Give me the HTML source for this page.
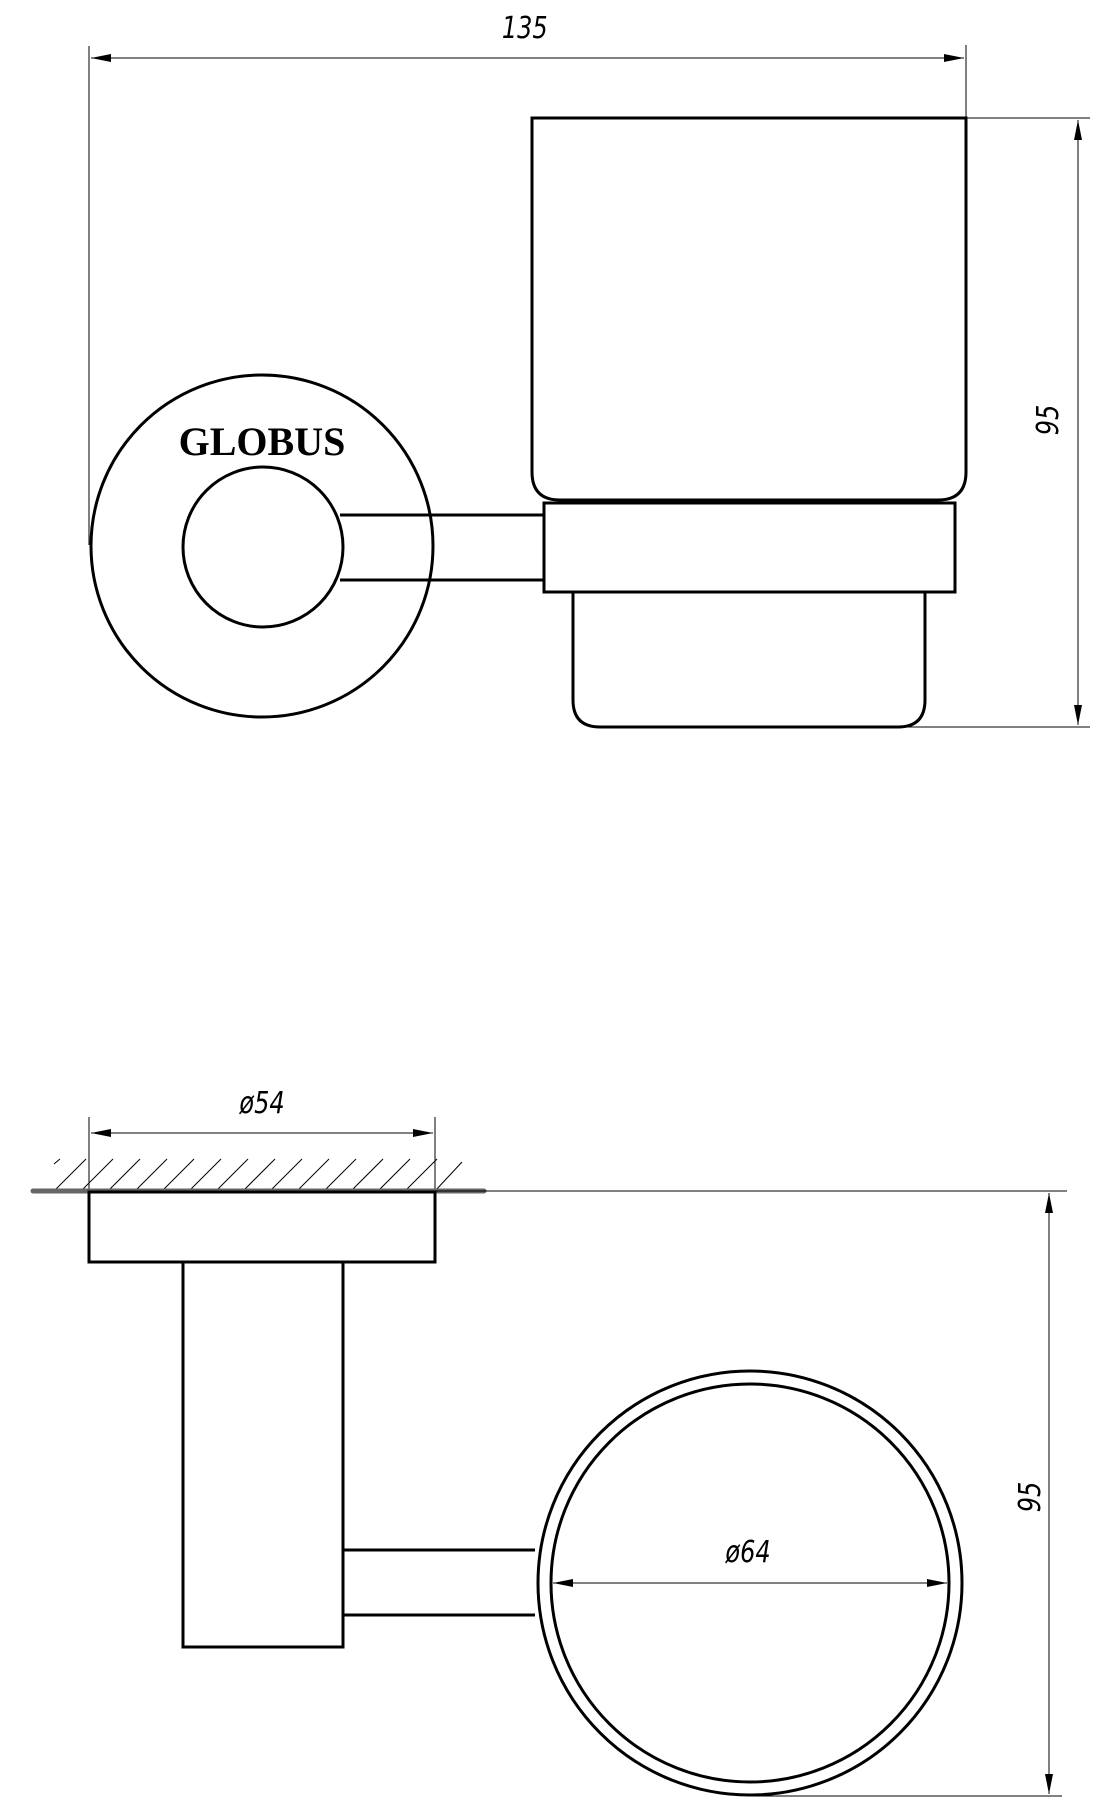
<!DOCTYPE html>
<html><head><meta charset="utf-8"><style>
html,body{margin:0;padding:0;background:#fff;}
svg{display:block;}
text{font-family:"DejaVu Sans","Liberation Sans",sans-serif;}
</style></head><body>
<svg width="1107" height="1800" viewBox="0 0 1107 1800" xmlns="http://www.w3.org/2000/svg">
<defs>
<marker id="a" viewBox="0 0 20 8" refX="20" refY="4" markerWidth="20" markerHeight="8" markerUnits="userSpaceOnUse" orient="auto-start-reverse"><path d="M0,0 L20,4 L0,8 Z" fill="#000"/></marker>
</defs>
<g fill="none" stroke="#000">
<line x1="89" y1="46" x2="89" y2="545" stroke-width="1"/>
<line x1="966" y1="45" x2="966" y2="118" stroke-width="1"/>
<line x1="91" y1="58" x2="964" y2="58" stroke-width="1" marker-start="url(#a)" marker-end="url(#a)"/>
<line x1="966" y1="118" x2="1090" y2="118" stroke-width="1"/>
<line x1="900" y1="727" x2="1090" y2="727" stroke-width="1"/>
<line x1="1078" y1="120" x2="1078" y2="725" stroke-width="1" marker-start="url(#a)" marker-end="url(#a)"/>
<path d="M532,118 H966 V472 Q966,500 938,500 H560 Q532,500 532,472 Z" stroke-width="3"/>
<rect x="544" y="503" width="411" height="89" stroke-width="3"/>
<path d="M573,592 V700 Q573,727 600,727 H898 Q925,727 925,700 V592" stroke-width="3"/>
<circle cx="262" cy="546" r="171" stroke-width="3" fill="#fff"/>
<line x1="340" y1="515" x2="544" y2="515" stroke-width="3"/>
<line x1="340" y1="580" x2="544" y2="580" stroke-width="3"/>
<circle cx="263" cy="547" r="80" stroke-width="3" fill="#fff"/>
<line x1="89" y1="1117" x2="89" y2="1192" stroke-width="1"/>
<line x1="435" y1="1117" x2="435" y2="1192" stroke-width="1"/>
<line x1="91" y1="1133" x2="433" y2="1133" stroke-width="1" marker-start="url(#a)" marker-end="url(#a)"/>
<g stroke-width="1">
<line x1="54" y1="1164" x2="60" y2="1159"/>
<line x1="54" y1="1191" x2="86" y2="1159"/><line x1="81" y1="1191" x2="113" y2="1159"/><line x1="108" y1="1191" x2="140" y2="1159"/><line x1="135" y1="1191" x2="167" y2="1159"/><line x1="162" y1="1191" x2="194" y2="1159"/><line x1="189" y1="1191" x2="221" y2="1159"/><line x1="216" y1="1191" x2="248" y2="1159"/><line x1="243" y1="1191" x2="275" y2="1159"/><line x1="270" y1="1191" x2="302" y2="1159"/><line x1="297" y1="1191" x2="329" y2="1159"/><line x1="324" y1="1191" x2="356" y2="1159"/><line x1="351" y1="1191" x2="383" y2="1159"/><line x1="378" y1="1191" x2="410" y2="1159"/><line x1="405" y1="1191" x2="437" y2="1159"/><line x1="435" y1="1191" x2="462" y2="1162"/>
</g>
<line x1="33" y1="1191" x2="484" y2="1191" stroke="#666" stroke-width="5" stroke-linecap="round"/>
<line x1="435" y1="1191" x2="1067" y2="1191" stroke-width="1"/>
<rect x="89" y="1192" width="346" height="70" stroke-width="3"/>
<rect x="183" y="1262" width="160" height="385" stroke-width="3"/>
<line x1="343" y1="1550" x2="535" y2="1550" stroke-width="3"/>
<line x1="343" y1="1615" x2="535" y2="1615" stroke-width="3"/>
<circle cx="750" cy="1583" r="212" stroke-width="3"/>
<circle cx="750" cy="1583" r="199" stroke-width="3"/>
<line x1="553" y1="1583" x2="947" y2="1583" stroke-width="1" marker-start="url(#a)" marker-end="url(#a)"/>
<line x1="750" y1="1796" x2="1062" y2="1796" stroke-width="1"/>
<line x1="1049" y1="1193" x2="1049" y2="1794" stroke-width="1" marker-start="url(#a)" marker-end="url(#a)"/>
</g>
<g fill="#000" font-size="30" font-style="italic">
<text x="525" y="38" text-anchor="middle" transform="scale(0.8,1) translate(131,0)">135</text>
<text transform="translate(1058,420) rotate(-90) scale(0.8,1)" text-anchor="middle">95</text>
<text transform="translate(1040,1497) rotate(-90) scale(0.8,1)" text-anchor="middle">95</text>
<text transform="translate(262,1113) scale(0.8,1)" text-anchor="middle">ø54</text>
<text transform="translate(748,1562) scale(0.8,1)" text-anchor="middle">ø64</text>
</g>
<text x="262" y="455" text-anchor="middle" style="font-family:'Liberation Serif',serif;font-weight:bold;font-size:40px" fill="#000">GLOBUS</text>
</svg>
</body></html>
